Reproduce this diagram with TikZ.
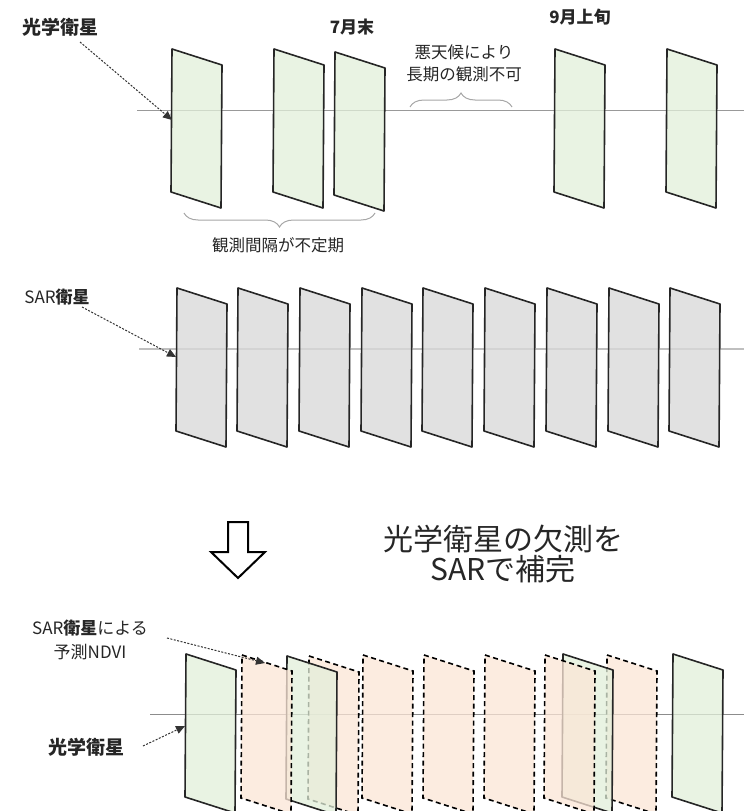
\documentclass[tikz,border=0pt]{standalone}
\usepackage{fontspec}
\setmainfont{Noto Sans CJK JP}
\usetikzlibrary{arrows.meta,decorations.pathreplacing}
\definecolor{gfill}{HTML}{E2EFDA}
\definecolor{ofill}{HTML}{FBE5D6}
\definecolor{sfill}{HTML}{D9D9D9}
\definecolor{edge}{HTML}{262626}
\definecolor{txt}{HTML}{262626}
\newcommand{\drawpane}[3]{\draw[#1] (#2,#3) -- ++(50,16) -- ++(-1,143) -- ++(-50,-16) -- cycle;}
\begin{document}
\begin{tikzpicture}[x=1pt,y=-1pt,
  optpane/.style={fill=gfill,fill opacity=0.75,draw=edge,line width=1.6pt,line join=round},
  sarpane/.style={fill=sfill,fill opacity=0.8,draw=edge,line width=1.6pt,line join=round},
  predpane/.style={fill=ofill,fill opacity=0.75,draw=black,line width=1.6pt,dash pattern=on 5pt off 3.5pt},
  tline/.style={draw=gray!85,line width=1pt},
  lbl/.style={text=txt,inner sep=0pt,align=center},
  pointer/.style={draw=gray!40!black,line width=1pt,dash pattern=on 2pt off 1.5pt,-{Triangle[length=9pt,width=8pt]}},
  brc/.style={draw=gray!70,line width=1pt,decorate,decoration={brace,amplitude=14pt}}
]
\useasboundingbox (0,0) rectangle (744,811);
\clip (0,0) rectangle (744,811);

% ---------- top: optical satellite ----------
\coordinate (t0) at (137,110);
\coordinate (t1) at (744,110);
\draw[tline,draw=gray!80] (t0) -- (t1);
\drawpane{optpane}{172}{49}
\drawpane{optpane}{274}{49}
\drawpane{optpane}{335}{52}
\drawpane{optpane}{555}{49}
\drawpane{optpane}{667}{49}

\node[lbl,font=\fontsize{19}{22}\selectfont\bfseries] (opt1) at (61,27) {光学衛星};
\node[lbl,font=\fontsize{17}{20}\selectfont\bfseries] (jul) at (352,27) {7月末};
\node[lbl,font=\fontsize{17}{20}\selectfont\bfseries] (sep) at (580,17) {9月上旬};
\node[lbl,font=\fontsize{16.5}{22}\selectfont] (bad) at (464,63) {悪天候により\\長期の観測不可};
\node[lbl,font=\fontsize{16.5}{20}\selectfont] (irr) at (278,245) {観測間隔が不定期};

\coordinate (p1s) at (80,42);
\coordinate (p1e) at (172,120);
\draw[pointer] (p1s) -- (p1e);

\coordinate (b1a) at (410,107);
\coordinate (b1b) at (512,107);
\draw[brc] (b1a) -- (b1b);
\coordinate (b2a) at (184,213);
\coordinate (b2b) at (375,213);
\draw[brc,decoration={mirror}] (b2a) -- (b2b);

% ---------- middle: SAR ----------
\coordinate (s0) at (139,349);
\coordinate (s1) at (744,349);
\draw[tline,draw=gray!50,line width=2pt] (s0) -- (s1);
\foreach \xx in {177,238,300,362,423,485,547,609,670}{
  \drawpane{sarpane}{\xx}{288}
}
\node[lbl,font=\fontsize{17}{20}\selectfont] (sar1) at (57,297) {SAR\textbf{衛星}};
\coordinate (p2s) at (82,307);
\coordinate (p2e) at (176,357);
\draw[pointer] (p2s) -- (p2e);

% ---------- hollow arrow and caption ----------
\draw[fill=white,draw=black,line width=2pt,line join=miter]
  (228,522) -- (248,522) -- (248,552) -- (265,552) -- (238,578) -- (211,552) -- (228,552) -- cycle;
\node[lbl,font=\fontsize{30}{30}\selectfont] (cap) at (503,554) {光学衛星の欠測を\\SARで補完};

% ---------- bottom: combined ----------
\coordinate (u0) at (150,714);
\coordinate (u1) at (744,714);
\draw[tline,draw=gray!90] (u0) -- (u1);
\drawpane{optpane}{186}{654}
\drawpane{predpane}{309}{656}
\drawpane{optpane}{287}{656}
\drawpane{predpane}{242}{655}
\drawpane{predpane}{363}{655}
\drawpane{predpane}{424}{655}
\drawpane{predpane}{485}{655}
\drawpane{predpane}{607}{655}
\drawpane{optpane}{563}{654}
\drawpane{predpane}{545}{655}
\drawpane{optpane}{673}{654}

\node[lbl,font=\fontsize{17}{24}\selectfont] (pred) at (90,640) {SAR\textbf{衛星}による\\予測NDVI};
\node[lbl,font=\fontsize{19}{22}\selectfont\bfseries] (opt2) at (86,747) {光学衛星};
\coordinate (p3s) at (167,638);
\coordinate (p3e) at (265,663);
\draw[pointer] (p3s) -- (p3e);
\coordinate (p4s) at (143,746);
\coordinate (p4e) at (185,726);
\draw[pointer] (p4s) -- (p4e);
\end{tikzpicture}
\end{document}
